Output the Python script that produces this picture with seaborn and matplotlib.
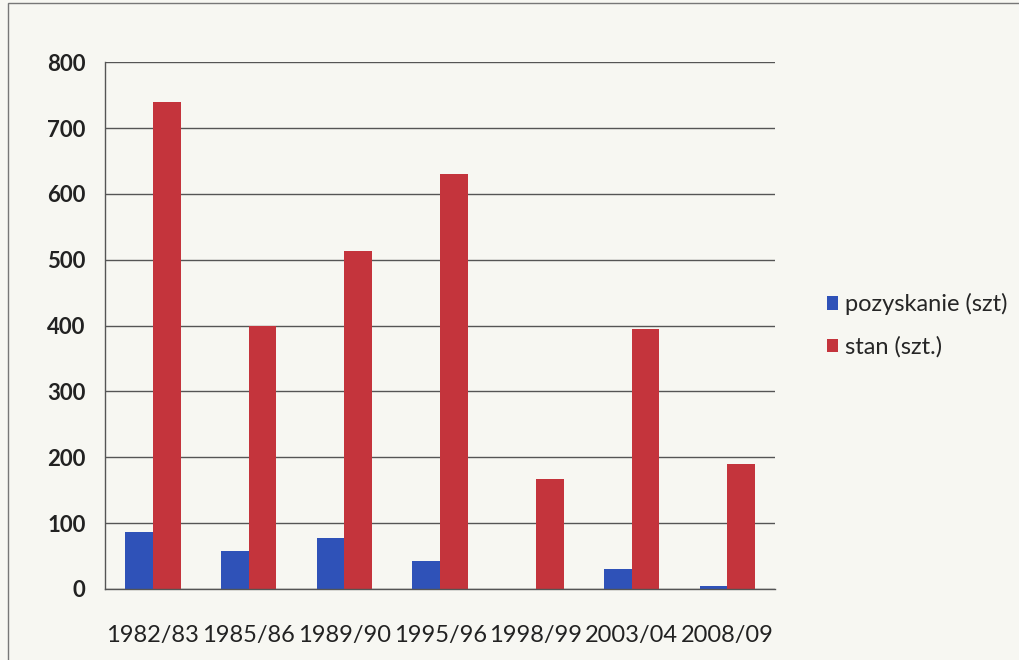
import matplotlib
matplotlib.use("Agg")
import matplotlib.pyplot as plt
import matplotlib.patches as mpatches
import seaborn as sns
import pandas as pd

seasons = ["1982/83", "1985/86", "1989/90", "1995/96", "1998/99", "2003/04", "2008/09"]
pozyskanie = [87, 57, 78, 42, 0, 30, 4]
stan = [740, 400, 513, 631, 167, 395, 190]
series_names = ["pozyskanie (szt)", "stan (szt.)"]
colors = ["#2F52B8", "#C4343C"]

df = pd.DataFrame({
    "sezon": seasons * 2,
    "wartosc": pozyskanie + stan,
    "seria": [series_names[0]] * len(seasons) + [series_names[1]] * len(seasons),
})

sns.set_style("white")
plt.rcParams["font.family"] = ["Lato", "DejaVu Sans"]

fig = plt.figure(figsize=(10.2, 6.6), dpi=100)
fig.patch.set_facecolor("#f7f7f2")
ax = fig.add_axes([0.103, 0.1076, 0.657, 0.798])
ax.set_facecolor("#f7f7f2")

sns.barplot(
    data=df, x="sezon", y="wartosc", hue="seria",
    hue_order=series_names, palette=colors,
    width=0.58, gap=0, saturation=1, ax=ax, edgecolor="none",
)

ax.set_ylim(0, 800)
ax.set_xlim(-0.5, len(seasons) - 0.5)
ax.set_yticks(range(0, 801, 100))
ax.yaxis.grid(True, color="#555555", linewidth=1.0)
ax.set_axisbelow(True)
ax.set_xlabel("")
ax.set_ylabel("")

for side in ["top", "right"]:
    ax.spines[side].set_visible(False)
for side in ["left", "bottom"]:
    ax.spines[side].set_color("#555555")
    ax.spines[side].set_linewidth(1.0)

ax.set_xticks([i + 0.5 for i in range(-1, len(seasons))], minor=True)
ax.tick_params(axis="x", which="major", length=0, labelsize=17, pad=26, colors="#222222")
ax.tick_params(axis="x", which="minor", length=6, color="#555555", direction="out")
ax.tick_params(axis="y", length=8, color="#555555", labelsize=16, pad=6, colors="#222222")
for lbl in ax.get_yticklabels():
    lbl.set_fontweight("bold")

leg = ax.legend(
    loc="center left", bbox_to_anchor=(1.045, 0.5), frameon=False,
    fontsize=17, handlelength=0.5, handleheight=0.5, handletextpad=0.3,
    labelspacing=0.9,
)

fig.patches.append(mpatches.Rectangle(
    (0.008, -0.01), 1.2, 1.005, transform=fig.transFigure,
    fill=False, edgecolor="#777777", linewidth=1.0,
))

fig.savefig("out.png", dpi=100, facecolor=fig.get_facecolor())
